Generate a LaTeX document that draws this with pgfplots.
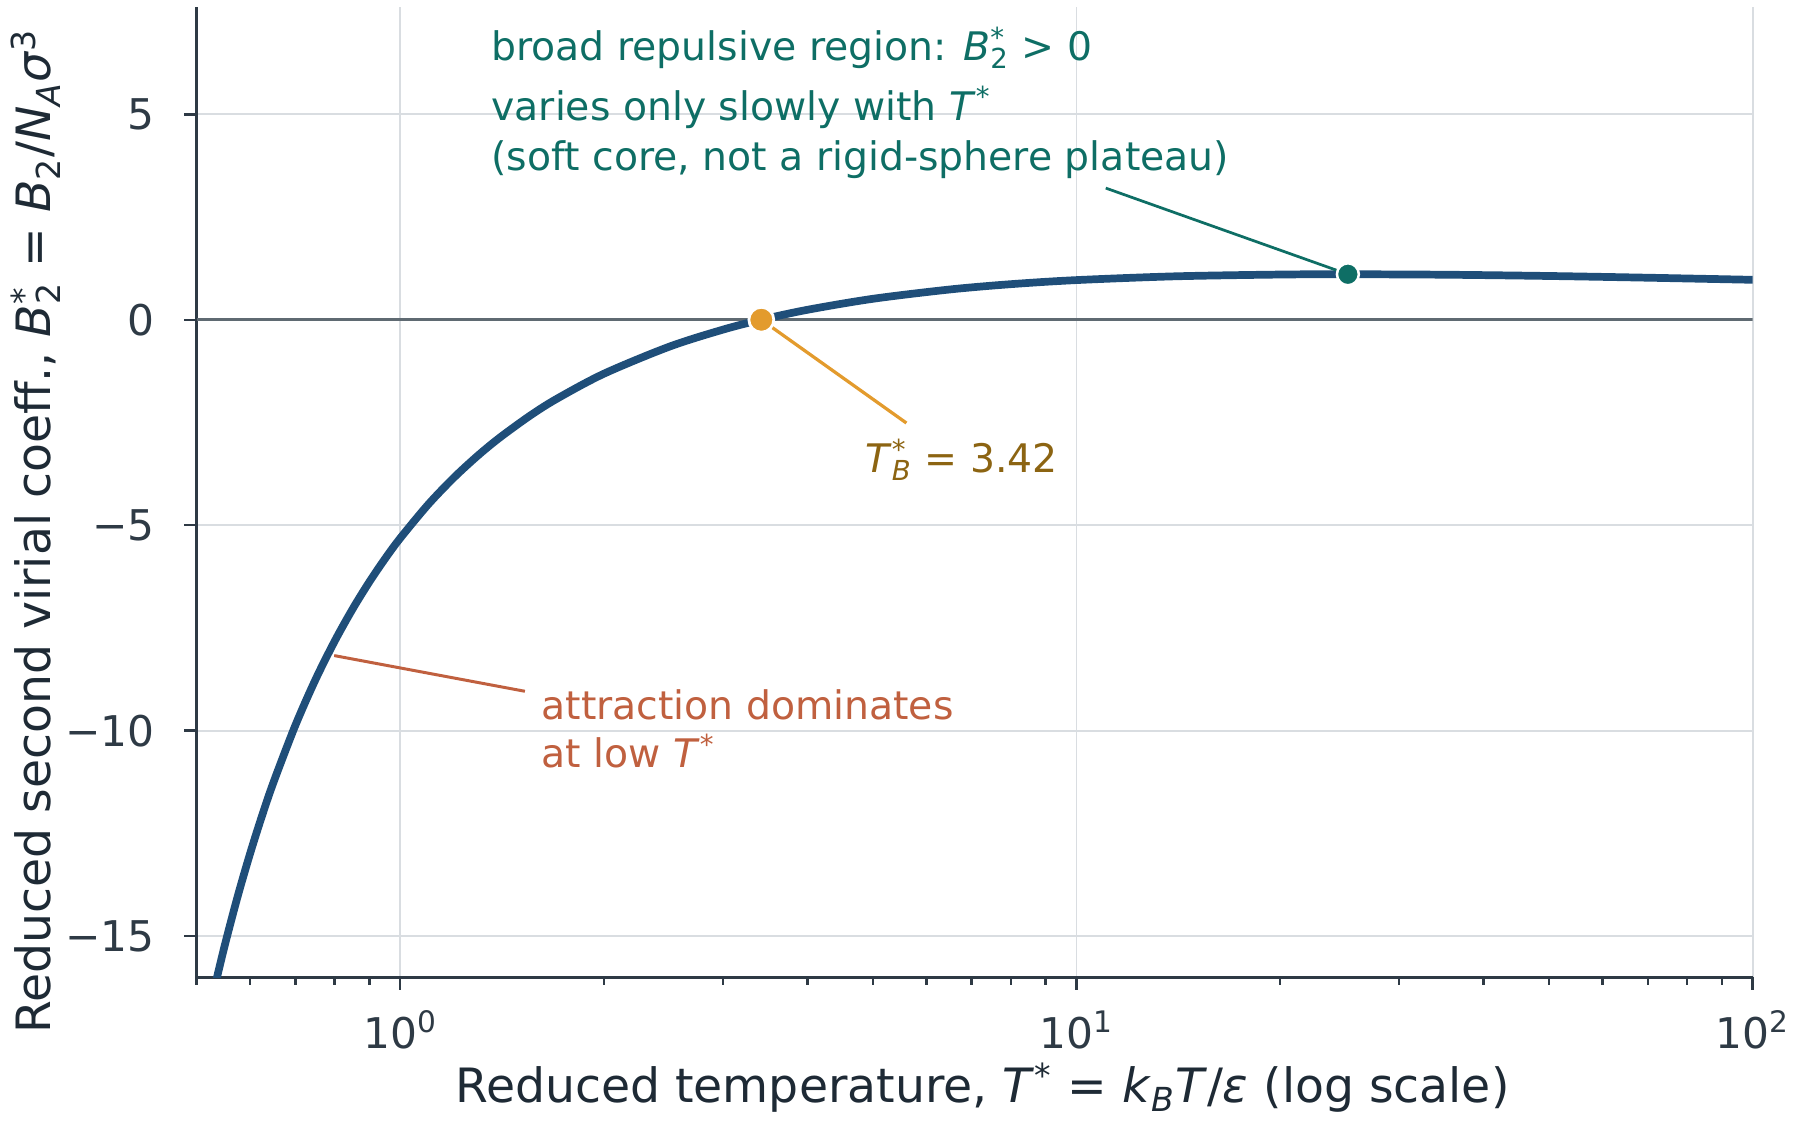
\documentclass[border=0pt]{standalone}
\usepackage{fontspec}
\setmainfont{DejaVu Sans}
\usepackage{pgfplots}
\pgfplotsset{compat=1.18}
\definecolor{curve}{HTML}{1F4E79}
\definecolor{axiscol}{HTML}{2E3A45}
\definecolor{labcol}{HTML}{1E2A35}
\definecolor{gridcol}{HTML}{D9DDE1}
\definecolor{zerocol}{HTML}{5F6A72}
\definecolor{orangedot}{HTML}{E39B2D}
\definecolor{goldtext}{HTML}{8C6412}
\definecolor{tealc}{HTML}{0E6E65}
\definecolor{redc}{HTML}{C0603F}
\newcommand\annotfont{\fontsize{15.8}{19}\selectfont}
\newcommand\tickfont{\fontsize{17}{20}\selectfont}
\newcommand\labelfont{\fontsize{19}{23}\selectfont}
\newcommand{\supsub}[2]{\setbox0\hbox{\textsuperscript{#1}}\setbox2\hbox{\textsubscript{#2}}\ifdim\wd0 >\wd2 \rlap{\box2 }\box0 \else\rlap{\box0 }\box2 \fi}
\begin{document}
\begin{tikzpicture}
\begin{axis}[
  at={(0,0)}, anchor=south west,
  scale only axis, width=625pt, height=389.5pt,
  xmode=log, log basis x=10,
  xmin=0.5, xmax=100, ymin=-16, ymax=7.6,
  axis x line*=bottom, axis y line*=left,
  axis line style={-, line width=1.3pt, color=axiscol},
  xtick={1,10,100},
  xticklabels={10\textsuperscript{0},10\textsuperscript{1},10\textsuperscript{2}},
  minor xtick={0.5,0.6,0.7,0.8,0.9,2,3,4,5,6,7,8,9,20,30,40,50,60,70,80,90},
  ytick={-15,-10,-5,0,5},
  yticklabels={−15,−10,−5,0,5},
  tick align=outside,
  major tick length=5pt, minor tick length=3pt,
  tick style={color=axiscol, line width=1pt},
  xticklabel style={font=\tickfont, text=axiscol, anchor=base, inner sep=0pt, yshift=-23.6pt},
  yticklabel style={font=\tickfont, text=axiscol, anchor=east, inner sep=0pt, xshift=-11.7pt},
  grid=major,
  major grid style={color=gridcol, line width=0.7pt},
]
\addplot[zerocol, line width=1.1pt, forget plot] coordinates {(0.5,0) (100,0)};
\addplot[curve, line width=3.1pt, smooth] coordinates {
(0.53,-16.334) (0.55,-15.235) (0.575,-14.030) (0.60,-12.981) (0.625,-12.059)
(0.65,-11.243) (0.70,-9.865) (0.75,-8.746) (0.80,-7.821) (0.85,-7.044)
(0.90,-6.382) (0.95,-5.812) (1.00,-5.316) (1.10,-4.495) (1.20,-3.845)
(1.30,-3.318) (1.40,-2.882) (1.55,-2.353) (1.70,-1.934) (2.00,-1.315)
(2.50,-0.655) (3.00,-0.241) (3.42,0.001) (4.00,0.242) (5.00,0.510)
(6.50,0.737) (8.00,0.866) (10.0,0.965) (14.0,1.057) (20.0,1.100)
(25.0,1.107) (35.0,1.096) (50.0,1.065) (70.0,1.023) (100,0.972)};
\draw[tealc, line width=1.1pt] (axis cs:11.05,3.204) -- (axis cs:25.2,1.107);
\draw[orangedot, line width=1.3pt] (axis cs:3.42,0) -- (axis cs:5.604,-2.513);
\draw[redc, line width=1.2pt] (axis cs:0.7987,-8.173) -- (axis cs:1.529,-9.042);
\addplot[only marks, mark=*, mark size=5pt, mark options={draw=white, fill=orangedot, line width=1.1pt}] coordinates {(3.42,0)};
\addplot[only marks, mark=*, mark size=4.4pt, mark options={draw=white, fill=tealc, line width=1pt}] coordinates {(25.2,1.107)};
\end{axis}
\pgfresetboundingbox
\path[use as bounding box] (-79pt,-58.12pt) rectangle (644pt,392.5pt);
\node[anchor=base west, inner sep=0pt, text=tealc, font=\annotfont] at (118.2pt,368.2pt) {broad repulsive region: \textit{B}\supsub{*}{2} > 0};
\node[anchor=base west, inner sep=0pt, text=tealc, font=\annotfont] at (118.2pt,344.3pt) {varies only slowly with \textit{T}\textsuperscript{*}};
\node[anchor=base west, inner sep=0pt, text=tealc, font=\annotfont] at (118.2pt,324.0pt) {(soft core, not a rigid-sphere plateau)};
\node[anchor=base west, inner sep=0pt, text=goldtext, font=\annotfont] at (268.4pt,202.7pt) {\textit{T}\supsub{*}{\textit{B}} = 3.42};
\node[anchor=base west, inner sep=0pt, text=redc, font=\annotfont] at (138.3pt,103.35pt) {attraction dominates};
\node[anchor=base west, inner sep=0pt, text=redc, font=\annotfont] at (138.3pt,84.35pt) {at low \textit{T}\textsuperscript{*}};
\node[anchor=base, inner sep=0pt, text=labcol, font=\labelfont] at (315.6pt,-50.4pt) {Reduced temperature, \textit{T}\textsuperscript{*} = \textit{k}\textsubscript{\textit{B}}\textit{T}/\textit{ε} (log scale)};
\node[rotate=90, anchor=base west, inner sep=0pt, text=labcol, font=\labelfont] at (-58.6pt,-22.8pt) {Reduced second virial coeff., \textit{B}\supsub{*}{2} = \textit{B}\textsubscript{2}/\textit{N}\textsubscript{\textit{A}}\textit{σ}\textsuperscript{3}};
\end{tikzpicture}
\end{document}
